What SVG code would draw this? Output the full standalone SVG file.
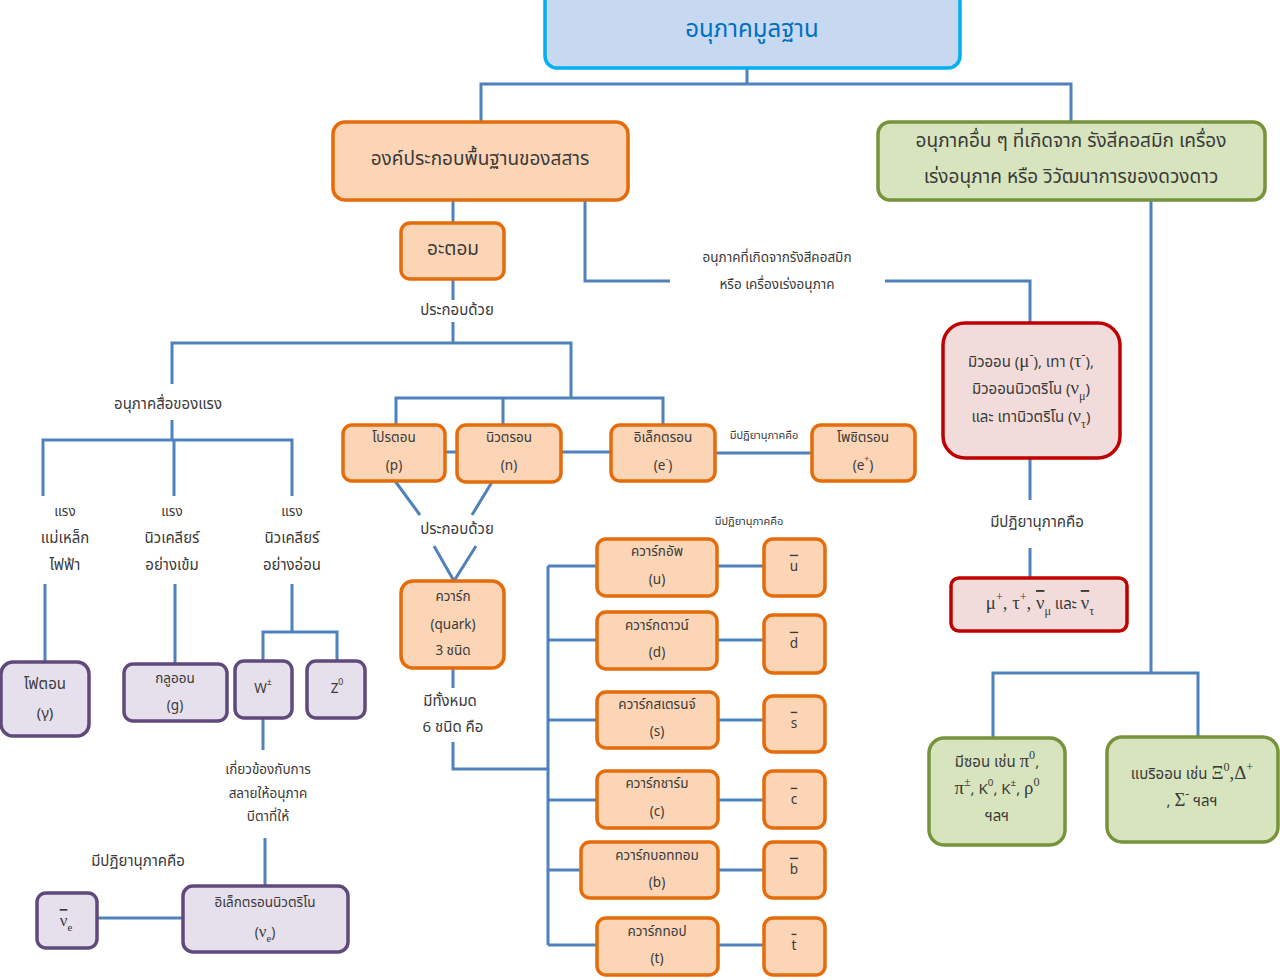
<svg xmlns="http://www.w3.org/2000/svg" width="1280" height="980" viewBox="0 0 1280 980">
<style>
text{font-family:"Noto Sans Thai","Noto Sans","DejaVu Sans",sans-serif;fill:#3a3a3a;text-anchor:middle;dominant-baseline:middle}
.conn line,.conn polyline{stroke:#4f81bd;stroke-width:3;fill:none}
.org{fill:#fbd5b5;stroke:#e46c0a;stroke-width:3.5}
.grn{fill:#d7e4bd;stroke:#77933c;stroke-width:3.5}
.red{fill:#f2dcdb;stroke:#c00000;stroke-width:3.5}
.pur{fill:#e5e0ec;stroke:#604a7b;stroke-width:3.5}
.f20{font-size:19px}
.f16{font-size:15px}
.f15{font-size:15px}
.f14{font-size:13.5px}
.f12{font-size:11px}
.sup{font-size:65%;baseline-shift:super}
.sub{font-size:65%;baseline-shift:sub}
.ser{font-family:"Liberation Serif","DejaVu Serif",serif;font-size:125%}
.ov{text-decoration:overline}
</style>
<rect width="1280" height="980" fill="#ffffff"/>
<g class="conn">
<polyline points="747,68 747,84"/>
<polyline points="481,122 481,84 1071,84 1071,122"/>
<line x1="453" y1="200" x2="453" y2="223"/>
<line x1="453" y1="279" x2="453" y2="300"/>
<line x1="453" y1="322" x2="453" y2="343"/>
<polyline points="172,384 172,343 571,343 571,398"/>
<polyline points="585,200 585,281 670,281"/>
<polyline points="885,281 1030,281 1030,323"/>
<line x1="1030" y1="458" x2="1030" y2="500"/>
<line x1="1030" y1="548" x2="1030" y2="578"/>
<polyline points="1151,200 1151,673"/>
<polyline points="993,738 993,673 1198,673 1198,737"/>
<line x1="172" y1="420" x2="172" y2="440"/>
<polyline points="43,496 43,440 292,440 292,496"/>
<line x1="174" y1="440" x2="174" y2="496"/>
<line x1="45" y1="584" x2="45" y2="662"/>
<line x1="175" y1="584" x2="175" y2="664"/>
<line x1="292" y1="584" x2="292" y2="632"/>
<polyline points="263,661 263,632 337,632 337,661"/>
<line x1="263" y1="718" x2="263" y2="750"/>
<line x1="265" y1="838" x2="265" y2="886"/>
<line x1="97" y1="918" x2="183" y2="918"/>
<polyline points="396,425 396,398 663,398 663,425"/>
<line x1="503" y1="398" x2="503" y2="425"/>
<line x1="445" y1="452" x2="457" y2="452"/>
<line x1="561" y1="452" x2="611" y2="452"/>
<line x1="715" y1="453" x2="812" y2="453"/>
<line x1="395" y1="481" x2="420" y2="515"/>
<line x1="492" y1="482" x2="472" y2="515"/>
<line x1="434" y1="546" x2="454" y2="581"/>
<line x1="476" y1="546" x2="454" y2="581"/>
<line x1="453" y1="668" x2="453" y2="688"/>
<polyline points="453,742 453,769 548,769"/>
<line x1="548" y1="566" x2="548" y2="945"/>
<line x1="548" y1="566" x2="597" y2="566"/>
<line x1="548" y1="640" x2="597" y2="640"/>
<line x1="548" y1="720" x2="597" y2="720"/>
<line x1="548" y1="800" x2="597" y2="800"/>
<line x1="548" y1="870" x2="581" y2="870"/>
<line x1="548" y1="945" x2="597" y2="945"/>
<line x1="717" y1="566" x2="764" y2="566"/>
<line x1="717" y1="640" x2="764" y2="640"/>
<line x1="718" y1="720" x2="764" y2="720"/>
<line x1="718" y1="800" x2="764" y2="800"/>
<line x1="718" y1="870" x2="764" y2="870"/>
<line x1="718" y1="945" x2="764" y2="945"/>
</g>
<g id="labels">
<text class="f16" x="457" y="311">ประกอบด้วย</text>
<text class="f14" x="777" y="258">อนุภาคที่เกิดจากรังสีคอสมิก</text>
<text class="f14" x="777" y="285">หรือ เครื่องเร่งอนุภาค</text>
<text class="f16" x="1037" y="523">มีปฏิยานุภาคคือ</text>
<text class="f16" x="168" y="405">อนุภาคสื่อของแรง</text>
<text class="f14" x="65" y="512">แรง</text>
<text class="f16" x="65" y="539">แม่เหล็ก</text>
<text class="f16" x="65" y="566">ไฟฟ้า</text>
<text class="f14" x="172" y="512">แรง</text>
<text class="f16" x="172" y="539">นิวเคลียร์</text>
<text class="f16" x="172" y="566">อย่างเข้ม</text>
<text class="f14" x="292" y="512">แรง</text>
<text class="f16" x="292" y="539">นิวเคลียร์</text>
<text class="f16" x="292" y="566">อย่างอ่อน</text>
<text class="f14" x="268" y="770">เกี่ยวข้องกับการ</text>
<text class="f14" x="268" y="794">สลายให้อนุภาค</text>
<text class="f14" x="268" y="817">บีตาที่ให้</text>
<text class="f16" x="138" y="862">มีปฏิยานุภาคคือ</text>
<text class="f12" x="764" y="436">มีปฏิยานุภาคคือ</text>
<text class="f16" x="457" y="530">ประกอบด้วย</text>
<text class="f16" x="450" y="702">มีทั้งหมด</text>
<text class="f16" x="453" y="728">6 ชนิด คือ</text>
<text class="f12" x="749" y="522">มีปฏิยานุภาคคือ</text>
</g>
<g id="root">
<rect x="545" y="-10" width="415" height="78" rx="12" fill="#c6d9f1" stroke="#00b0f0" stroke-width="3.5"/>
<text x="752" y="30" font-size="24" style="fill:#0070c0">อนุภาคมูลฐาน</text>
</g>
<g id="matter">
<rect class="org" x="333" y="122" width="295" height="78" rx="12"/>
<text class="f20" x="480" y="160">องค์ประกอบพื้นฐานของสสาร</text>
</g>
<g id="other">
<rect class="grn" x="878" y="122" width="387" height="78" rx="12"/>
<text class="f20" x="1071" y="142">อนุภาคอื่น ๆ ที่เกิดจาก รังสีคอสมิก เครื่อง</text>
<text class="f20" x="1071" y="178">เร่งอนุภาค หรือ วิวัฒนาการของดวงดาว</text>
</g>
<g id="atom">
<rect class="org" x="401" y="223" width="103" height="56" rx="9"/>
<text class="f20" x="453" y="250">อะตอม</text>
</g>
<g id="leptons">
<rect class="red" x="943" y="323" width="177" height="135" rx="22"/>
<text class="f15" x="1031" y="363">มิวออน (<tspan class="ser">μ<tspan class="sup">-</tspan></tspan>), เทา (<tspan class="ser">τ<tspan class="sup">-</tspan></tspan>),</text>
<text class="f15" x="1031" y="390">มิวออนนิวตริโน (<tspan class="ser">ν<tspan class="sub">μ</tspan></tspan>)</text>
<text class="f15" x="1031" y="418">และ เทานิวตริโน (<tspan class="ser">ν<tspan class="sub">τ</tspan></tspan>)</text>
</g>
<g id="antileptons">
<rect class="red" x="951" y="578" width="176" height="53" rx="8"/>
<text class="f15" x="1040" y="605"><tspan class="ser">μ<tspan class="sup">+</tspan>, τ<tspan class="sup">+</tspan>, <tspan class="ov">ν</tspan><tspan class="sub">μ</tspan></tspan> และ <tspan class="ser"><tspan class="ov">ν</tspan><tspan class="sub">τ</tspan></tspan></text>
</g>
<g id="mesons">
<rect class="grn" x="929" y="738" width="136" height="107" rx="15"/>
<text class="f15" x="997" y="763">มีซอน เช่น <tspan class="ser">π<tspan class="sup">0</tspan></tspan>,</text>
<text class="f15" x="997" y="790"><tspan class="ser">π<tspan class="sup">±</tspan></tspan>, K<tspan class="sup">0</tspan>, K<tspan class="sup">±</tspan>, <tspan class="ser">ρ<tspan class="sup">0</tspan></tspan></text>
<text class="f15" x="997" y="817">ฯลฯ</text>
</g>
<g id="baryons">
<rect class="grn" x="1107" y="737" width="171" height="105" rx="15"/>
<text class="f15" x="1192" y="775">แบริออน เช่น <tspan class="ser">Ξ<tspan class="sup">0</tspan>,Δ<tspan class="sup">+</tspan></tspan></text>
<text class="f15" x="1192" y="802">, <tspan class="ser">Σ<tspan class="sup">-</tspan></tspan> ฯลฯ</text>
</g>
<g id="photon">
<rect class="pur" x="1" y="662" width="88" height="74" rx="12"/>
<text class="f16" x="45" y="685">โฟตอน</text>
<text class="f16" x="45" y="714">(γ)</text>
</g>
<g id="gluon">
<rect class="pur" x="124" y="664" width="103" height="57" rx="9"/>
<text class="f14" x="175" y="679">กลูออน</text>
<text class="f14" x="175" y="706">(g)</text>
</g>
<g id="wboson">
<rect class="pur" x="235" y="661" width="57" height="57" rx="9"/>
<text class="f14" x="263" y="689">W<tspan class="sup">±</tspan></text>
</g>
<g id="zboson">
<rect class="pur" x="307" y="661" width="58" height="57" rx="9"/>
<text class="f14" x="337" y="689">Z<tspan class="sup">0</tspan></text>
</g>
<g id="enu">
<rect class="pur" x="183" y="886" width="165" height="66" rx="10"/>
<text class="f14" x="265" y="903">อิเล็กตรอนนิวตริโน</text>
<text class="f14" x="265" y="933">(<tspan class="ser">ν<tspan class="sub">e</tspan></tspan>)</text>
</g>
<g id="antienu">
<rect class="pur" x="37" y="893" width="60" height="55" rx="9"/>
<text class="f14" x="66" y="922"><tspan class="ser"><tspan class="ov">ν</tspan><tspan class="sub">e</tspan></tspan></text>
</g>
<g id="proton">
<rect class="org" x="343" y="425" width="102" height="56" rx="9"/>
<text class="f14" x="394" y="438">โปรตอน</text>
<text class="f14" x="394" y="466">(p)</text>
</g>
<g id="neutron">
<rect class="org" x="457" y="425" width="104" height="57" rx="9"/>
<text class="f14" x="509" y="438">นิวตรอน</text>
<text class="f14" x="509" y="466">(n)</text>
</g>
<g id="electron">
<rect class="org" x="611" y="425" width="104" height="56" rx="9"/>
<text class="f14" x="663" y="438">อิเล็กตรอน</text>
<text class="f14" x="663" y="466">(e<tspan class="sup">-</tspan>)</text>
</g>
<g id="positron">
<rect class="org" x="812" y="425" width="103" height="56" rx="9"/>
<text class="f14" x="863" y="438">โพซิตรอน</text>
<text class="f14" x="863" y="466">(e<tspan class="sup">+</tspan>)</text>
</g>
<g id="quark">
<rect class="org" x="401" y="581" width="103" height="87" rx="12"/>
<text class="f14" x="453" y="597">ควาร์ก</text>
<text class="f14" x="453" y="625">(quark)</text>
<text class="f14" x="453" y="651">3 ชนิด</text>
</g>
<g id="up">
<rect class="org" x="597" y="539" width="120" height="57" rx="9"/>
<text class="f14" x="657" y="552">ควาร์กอัพ</text>
<text class="f14" x="657" y="580">(u)</text>
</g>
<g id="antiup">
<rect class="org" x="764" y="539" width="61" height="57" rx="9"/>
<text class="f14 ov" x="794" y="567">u</text>
</g>
<g id="down">
<rect class="org" x="597" y="612" width="120" height="57" rx="9"/>
<text class="f14" x="657" y="626">ควาร์กดาวน์</text>
<text class="f14" x="657" y="653">(d)</text>
</g>
<g id="antidown">
<rect class="org" x="764" y="615" width="61" height="58" rx="9"/>
<text class="f14 ov" x="794" y="644">d</text>
</g>
<g id="strange">
<rect class="org" x="597" y="692" width="121" height="56" rx="9"/>
<text class="f14" x="657" y="705">ควาร์กสเตรนจ์</text>
<text class="f14" x="657" y="732">(s)</text>
</g>
<g id="antistrange">
<rect class="org" x="764" y="696" width="61" height="56" rx="9"/>
<text class="f14 ov" x="794" y="724">s</text>
</g>
<g id="charm">
<rect class="org" x="597" y="771" width="121" height="57" rx="9"/>
<text class="f14" x="657" y="784">ควาร์กชาร์ม</text>
<text class="f14" x="657" y="812">(c)</text>
</g>
<g id="anticharm">
<rect class="org" x="764" y="771" width="61" height="57" rx="9"/>
<text class="f14 ov" x="794" y="800">c</text>
</g>
<g id="bottom">
<rect class="org" x="581" y="842" width="137" height="56" rx="9"/>
<text class="f14" x="657" y="856">ควาร์กบอททอม</text>
<text class="f14" x="657" y="883">(b)</text>
</g>
<g id="antibottom">
<rect class="org" x="764" y="842" width="61" height="56" rx="9"/>
<text class="f14 ov" x="794" y="870">b</text>
</g>
<g id="top">
<rect class="org" x="597" y="918" width="121" height="57" rx="9"/>
<text class="f14" x="657" y="932">ควาร์กทอป</text>
<text class="f14" x="657" y="959">(t)</text>
</g>
<g id="antitop">
<rect class="org" x="764" y="918" width="61" height="57" rx="9"/>
<text class="f14 ov" x="794" y="946">t</text>
</g>
</svg>
